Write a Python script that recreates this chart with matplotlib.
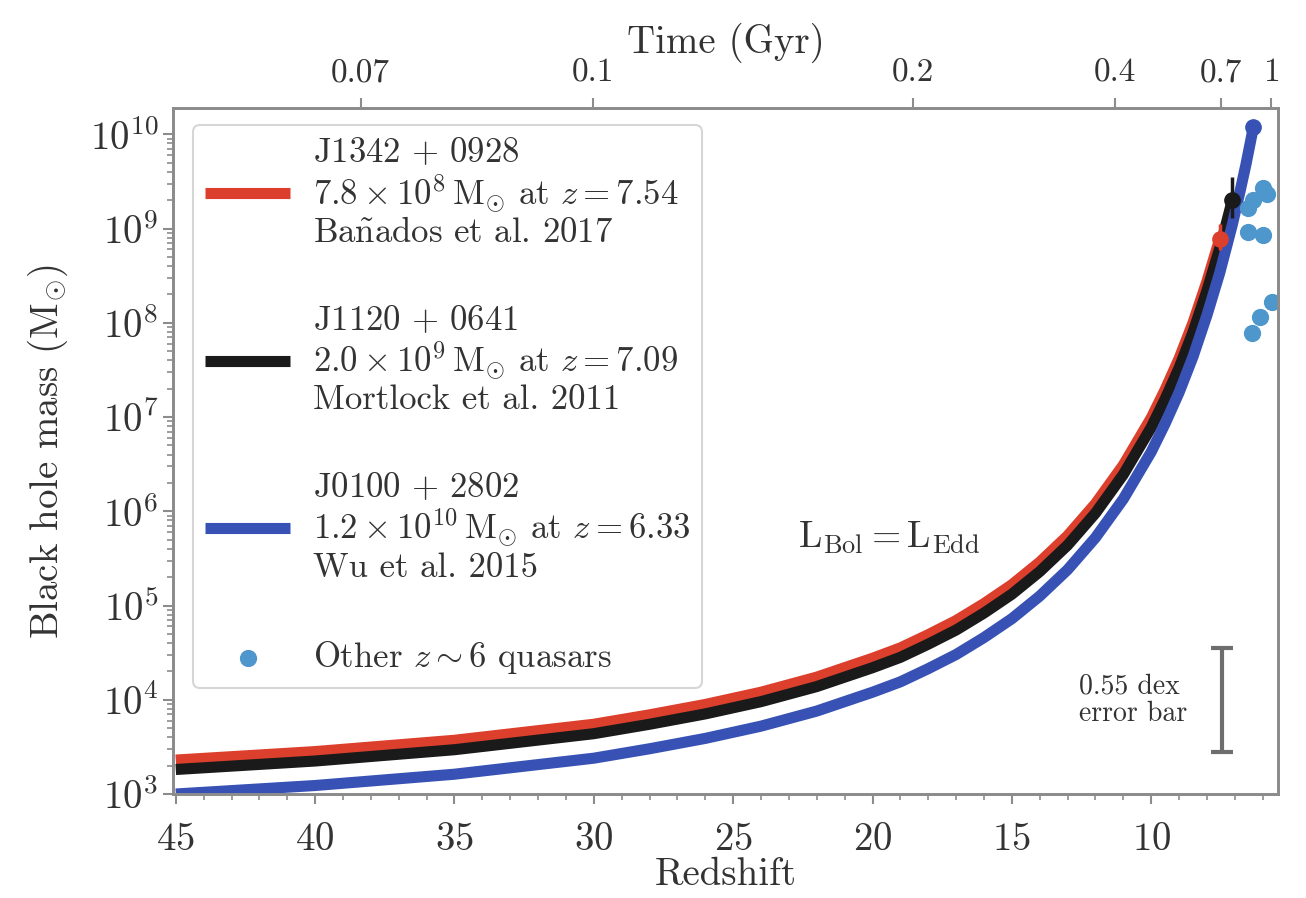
import matplotlib
matplotlib.use("Agg")
import matplotlib.pyplot as plt
import numpy as np

plt.rcParams['font.family'] = ['cmr10', 'DejaVu Serif']
plt.rcParams['mathtext.fontset'] = 'cm'
plt.rcParams['axes.unicode_minus'] = False
plt.rcParams['axes.formatter.use_mathtext'] = True

# Eddington-limited growth tracks (log10 of mass)
z_track = [45, 40, 35, 30, 28, 26, 24, 22, 20, 19, 18, 17, 16, 15, 14, 13,
           12, 11, 10, 9.5, 9, 8.5, 8, 7.54]
red_logm = [3.36, 3.45, 3.57, 3.74, 3.84, 3.95, 4.08, 4.24, 4.44, 4.55, 4.69,
            4.84, 5.02, 5.22, 5.46, 5.74, 6.08, 6.49, 6.99, 7.29, 7.62, 8.00,
            8.44, 8.89]

z_black = z_track + [7.3, 7.09]
black_logm = [3.26, 3.35, 3.47, 3.64, 3.74, 3.85, 3.98, 4.14, 4.34, 4.45, 4.59,
              4.74, 4.92, 5.12, 5.36, 5.64, 5.98, 6.39, 6.89, 7.19, 7.52, 7.90,
              8.34, 8.79, 9.06, 9.30]

z_blue = z_track + [7.09, 6.8, 6.6, 6.33]
blue_logm = [3.00, 3.09, 3.21, 3.38, 3.48, 3.59, 3.72, 3.88, 4.08, 4.19, 4.33,
             4.48, 4.66, 4.86, 5.10, 5.38, 5.72, 6.13, 6.63, 6.93, 7.26, 7.64,
             8.08, 8.53, 9.04, 9.41, 9.68, 10.08]

# observed quasars: redshift, mass, lower / upper error
qso_z = [7.54, 7.09, 6.33]
qso_m = [7.8e8, 2.0e9, 1.2e10]
qso_lo = [1.9e8, 0.7e9, 0.19e10]
qso_hi = [3.3e8, 1.5e9, 0.19e10]

# other z~6 quasars
other_z = [5.99, 5.85, 6.35, 6.53, 6.53, 5.99, 5.68, 6.10, 6.40]
other_m = [2.7e9, 2.3e9, 2.0e9, 1.65e9, 9.1e8, 8.5e8, 1.65e8, 1.15e8, 7.8e7]

time_ticks = [0.07, 0.1, 0.2, 0.4, 0.7, 1]
time_labels = ['0.07', '0.1', '0.2', '0.4', '0.7', '1']

labels = [
    '$\\mathrm{J1342\\,+\\,0928}$\n$7.8\\times10^{8}\\,\\mathrm{M}_{\\odot}$ at $z=7.54$\nBa$\\tilde{\\mathrm{n}}$ados et al. 2017',
    '$\\mathrm{J1120\\,+\\,0641}$\n$2.0\\times10^{9}\\,\\mathrm{M}_{\\odot}$ at $z=7.09$\nMortlock et al. 2011',
    '$\\mathrm{J0100\\,+\\,2802}$\n$1.2\\times10^{10}\\,\\mathrm{M}_{\\odot}$ at $z=6.33$\nWu et al. 2015',
]
colors = ['#dc3f2c', '#1a1a1a', '#3752b4']
light_blue = '#4d97cc'
spine_c = '#8c8c8c'
text_c = '#333333'

fig = plt.figure(figsize=(13.06, 8.98), dpi=100)
ax = fig.add_axes([173 / 1306, 104 / 898, 1105 / 1306, 686 / 898])

tracks = [(z_track, red_logm), (z_black, black_logm), (z_blue, blue_logm)]
for (zz, lm), c, lab in zip(tracks, colors, labels):
    ax.plot(zz, 10 ** np.array(lm), color=c, lw=8, solid_capstyle='butt',
            label=lab, zorder=2)

for i in range(3):
    ax.errorbar(qso_z[i], qso_m[i], yerr=[[qso_lo[i]], [qso_hi[i]]],
                fmt='o', color=colors[i], ms=11, elinewidth=2.5, capsize=0,
                zorder=4)

ax.scatter(other_z, other_m, s=130, color=light_blue, zorder=3,
           label='Other $z\\sim6$ quasars')

# 0.55 dex error bar
ax.errorbar([7.47], [1e4], yerr=[[1e4 - 1e4 / 10 ** 0.55], [1e4 * 10 ** 0.55 - 1e4]],
            fmt='none', ecolor='#6e6e6e', elinewidth=3, capsize=8, capthick=3)
ax.text(12.6, 1e4, '0.55 dex\nerror bar', fontsize=20, color=text_c,
        ha='left', va='center', linespacing=1.05)

ax.text(19.4, 10 ** 5.72, '$\\mathrm{L_{Bol}=L_{Edd}}$', fontsize=27,
        color=text_c, ha='center', va='center')

ax.set_yscale('log')
ax.set_xlim(45.1, 5.45)
ax.set_ylim(1e3, 1.9e10)
ax.set_xticks([45, 40, 35, 30, 25, 20, 15, 10])
ax.set_xticks(np.arange(6, 46, 1), minor=True)
ax.set_xlabel('Redshift', fontsize=28, color=text_c, labelpad=0)
ax.set_ylabel('Black hole mass ($\\mathrm{M}_{\\odot}$)', fontsize=28,
              color=text_c, labelpad=14)
ax.tick_params(axis='both', which='major', labelsize=28, labelcolor=text_c,
               color=spine_c, length=7, width=1.5, direction='out')
ax.tick_params(axis='x', which='major', pad=13)
ax.tick_params(axis='both', which='minor', color=spine_c, length=4, width=1.2,
               direction='out')
for s in ax.spines.values():
    s.set_color(spine_c)
    s.set_linewidth(2)

# top axis: cosmic time
top = ax.twiny()
top.set_xlim(ax.get_xlim())
top_pos = [(17.29 / t) ** (2 / 3) - 1 for t in time_ticks]
top.set_xticks(top_pos)
top.set_xticklabels(time_labels)
top.set_xticks([], minor=True)
top.tick_params(axis='x', labelsize=24, labelcolor=text_c, color=spine_c,
                length=7, width=1.5, direction='out', pad=8)
top.set_xlabel('Time (Gyr)', fontsize=28, color=text_c, labelpad=4)
for s in top.spines.values():
    s.set_color(spine_c)
    s.set_linewidth(2)

leg = ax.legend(loc='upper left', bbox_to_anchor=(0.018, 0.975),
                borderaxespad=0, fontsize=25, handlelength=2.45,
                handletextpad=0.65, labelspacing=1.6, scatterpoints=1,
                frameon=True, fancybox=True, edgecolor='#cccccc',
                borderpad=0.35)
leg.get_frame().set_linewidth(1.5)
for t in leg.get_texts():
    t.set_color(text_c)
    t.set_linespacing(1.1)

fig.savefig('out.png', dpi=100)
